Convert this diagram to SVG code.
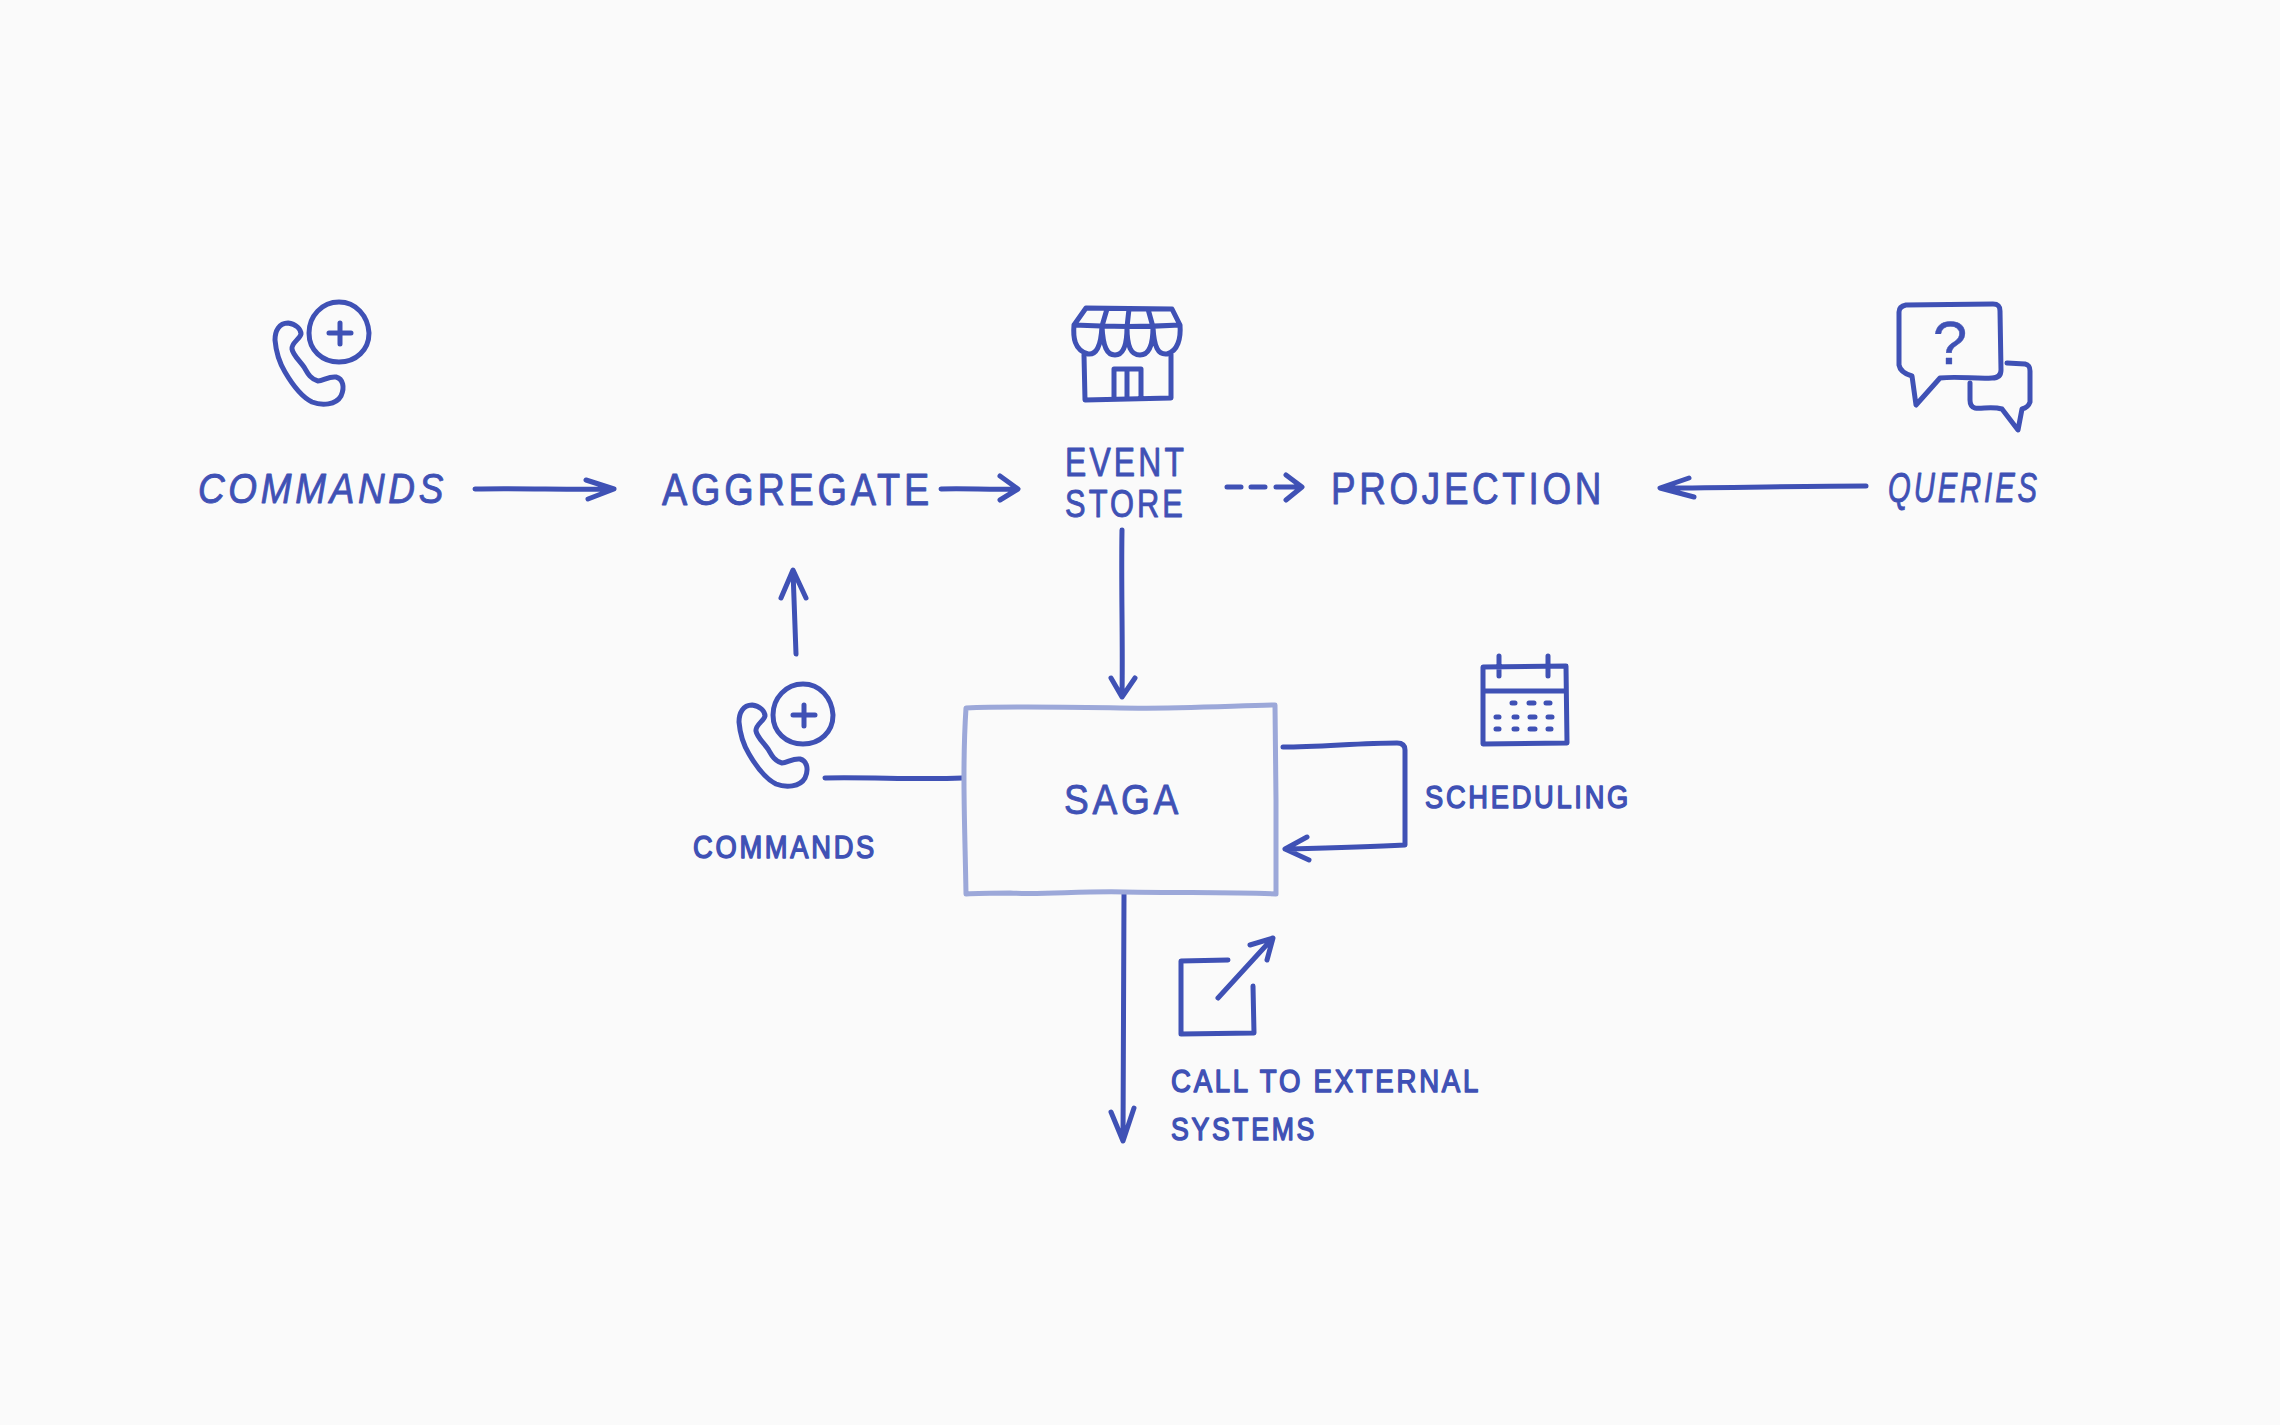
<svg xmlns="http://www.w3.org/2000/svg" width="2280" height="1425" viewBox="0 0 2280 1425">
<style>
.i{fill:none;stroke:#3f51b5;stroke-width:5;stroke-linecap:round;stroke-linejoin:round}
.c{fill:none;stroke:#3f51b5;stroke-width:5;stroke-linecap:round;stroke-linejoin:round}
.t{font-family:"Liberation Sans",Arial,sans-serif;fill:#3f51b5;stroke:#3f51b5;stroke-width:.9;stroke-linejoin:round;letter-spacing:.1em}
.b{stroke-width:1.5}
</style>
<defs>
<g id="phone-plus">
<path class="i" d="M288 323C279 323 275 331 275 340C276 352 279 362 285 372C292 384 300 396 312 402C322 406 336 405 341 396C345 387 343 379 336 377C329 376 323 381 318 381C310 379 307 372 304 367C299 360 293 355 292 349C291 343 300 339 301 334C301 329 296 324 288 323Z"/>
<path class="i" d="M339 302C356 302 368 316 369 333C369 350 356 362 339 362C322 362 309 350 309 333C309 316 322 302 339 302Z"/>
<path class="i" d="M340 323V344M329 333H351"/>
</g>
</defs>
<rect width="2280" height="1425" fill="#fafafa"/>

<g id="connectors">
<path class="c" d="M475 489C520 488 570 490 613 489M586 480L614 489L588 499"/>
<path class="c" d="M941 489C965 488 990 490 1017 489M1000 476L1018 489L1000 500"/>
<path class="c" d="M1227 487H1241M1251 487H1265M1276 487H1301M1286 475L1302 487L1286 500"/>
<path class="c" d="M1866 486C1800 486 1730 488 1661 488M1689 478L1660 488L1694 497"/>
<path class="c" d="M796 654L793 571M781 598L793 570L806 598"/>
<path class="c" d="M1122 530C1121 590 1123 640 1122 695M1111 678L1122 697L1135 678"/>
<path class="c" d="M825 778C870 777 920 780 962 778"/>
<path class="c" d="M1283 747C1320 747 1360 743 1397 743C1402 743 1405 745 1405 750L1405 845C1365 847 1325 848 1286 849M1307 837L1285 849L1309 860"/>
<path class="c" d="M1124 894C1123 970 1124 1050 1123 1139M1111 1112L1123 1141L1134 1108"/>
</g>

<g id="node-commands">
<use href="#phone-plus"/>
<text class="t" x="198" y="503" font-size="42" font-style="italic" textLength="249" lengthAdjust="spacingAndGlyphs">COMMANDS</text>
</g>
<g id="node-aggregate">
<text class="t" x="662" y="505" font-size="44" textLength="271" lengthAdjust="spacingAndGlyphs">AGGREGATE</text>
</g>
<g id="node-event-store">
<path class="i" d="M1086 308L1172 309L1180 325C1145 327 1110 327 1074 325ZM1074 325C1073 337 1074 350 1088 354C1096 355 1101 347 1102 326C1103 347 1107 355 1115 355C1123 355 1127 347 1127 327C1127 347 1131 355 1140 355C1148 355 1153 347 1153 327C1154 347 1158 355 1167 354C1178 351 1181 338 1180 325M1107 309L1102 326M1129 309L1127 327M1148 309L1153 327M1084 355L1085 400L1171 398L1171 354M1114 399L1114 369L1141 369L1141 398M1127 370V398"/>
<text class="t" x="1065" y="476" font-size="40" textLength="122" lengthAdjust="spacingAndGlyphs">EVENT</text>
<text class="t" x="1065" y="517" font-size="38" textLength="121" lengthAdjust="spacingAndGlyphs">STORE</text>
</g>
<g id="node-projection">
<text class="t" x="1331" y="504" font-size="44" textLength="274" lengthAdjust="spacingAndGlyphs">PROJECTION</text>
</g>
<g id="node-queries">
<path class="i" d="M1906 305L1993 304C1998 304 2000 306 2000 311L2001 370C2001 376 1997 378 1992 378C1975 379 1958 376 1940 378L1916 405L1912 376C1905 374 1900 371 1899 365L1899 312C1899 308 1901 306 1906 305Z"/>
<path class="i" d="M2007 363L2025 364C2029 365 2030 367 2030 371L2030 402C2029 405 2026 408 2022 409L2018 430L2002 409C1992 406 1982 409 1975 408C1971 407 1970 404 1970 400L1970 383"/>
<text class="t" x="1950" y="364" font-size="62" text-anchor="middle" style="stroke-width:.4;letter-spacing:0">?</text>
<text class="t" x="1888" y="502" font-size="42" font-style="italic" textLength="152" lengthAdjust="spacingAndGlyphs">QUERIES</text>
</g>
<g id="node-saga">
<path d="M966 708C1010 706 1060 707 1120 708C1170 709 1230 706 1275 705L1276 800L1276 894C1230 892 1190 893 1124 892C1080 891 1040 895 1010 893C995 893 980 893 966 894C965 830 962 770 966 708Z" fill="none" stroke="#9ca8d9" stroke-width="5" stroke-linejoin="round"/>
<text class="t" x="1064" y="814" font-size="43" textLength="118" lengthAdjust="spacingAndGlyphs">SAGA</text>
</g>
<g id="node-saga-commands">
<use href="#phone-plus" x="464" y="382"/>
<text class="t b" x="693" y="858" font-size="32" textLength="184" lengthAdjust="spacingAndGlyphs">COMMANDS</text>
</g>
<g id="node-scheduling">
<path class="i" d="M1483 667L1566 666L1567 743L1483 744ZM1483 691H1566M1499 656V676M1548 656V676"/>
<path class="i" d="M1512 703H1515M1529 703H1534M1546 703H1550M1496 717H1499M1514 717H1517M1530 717H1535M1548 717H1552M1496 729H1499M1514 729H1517M1530 729H1535M1548 729H1551"/>
<text class="t b" x="1425" y="808" font-size="32" textLength="206" lengthAdjust="spacingAndGlyphs">SCHEDULING</text>
</g>
<g id="node-external">
<path class="i" d="M1228 960L1181 961L1181 1034L1254 1033L1253 986"/>
<path class="i" d="M1218 998L1272 939M1250 945L1273 938L1267 960"/>
<text class="t b" x="1171" y="1092" font-size="32" textLength="310" lengthAdjust="spacingAndGlyphs">CALL TO EXTERNAL</text>
<text class="t b" x="1171" y="1140" font-size="32" textLength="146" lengthAdjust="spacingAndGlyphs">SYSTEMS</text>
</g>
</svg>
